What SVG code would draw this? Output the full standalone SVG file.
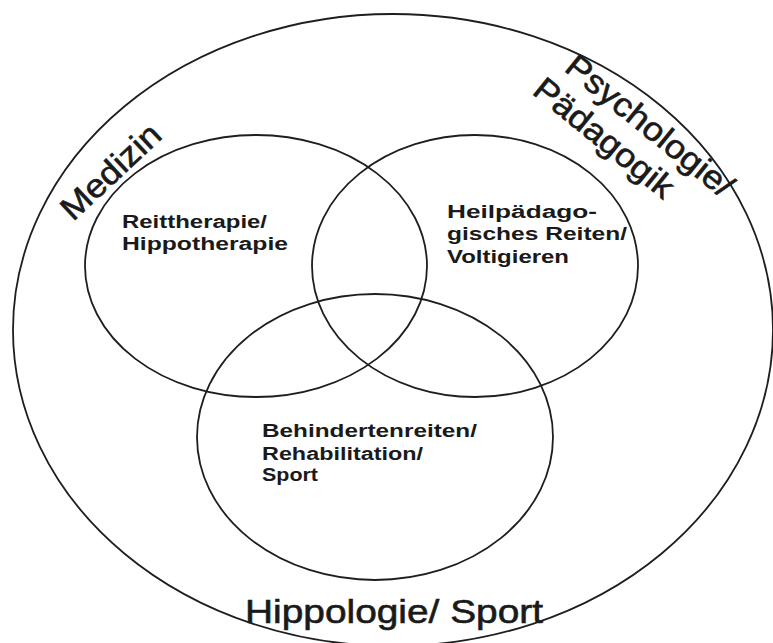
<svg xmlns="http://www.w3.org/2000/svg" width="773" height="643" viewBox="0 0 773 643">
<style>
.ring{fill:none;stroke:#1e1e1e;stroke-width:1.8}
.big{font-family:"Liberation Sans","DejaVu Sans",sans-serif;font-size:33px;fill:#1a1a1a;stroke:#1a1a1a;stroke-width:0.6}
.small{font-family:"Liberation Sans","DejaVu Sans",sans-serif;font-size:18px;font-weight:bold;fill:#1a1a1a}
</style>
<rect width="773" height="643" fill="#ffffff"/>
<g id="connectors"></g>
<g id="outer">
<ellipse class="ring" cx="393" cy="330" rx="380" ry="316"/>
<text class="big" transform="translate(73,222) rotate(-43)" font-size="35" textLength="124" lengthAdjust="spacingAndGlyphs">Medizin</text>
<g transform="translate(563,70) rotate(39)">
<text class="big" x="0" y="0" textLength="205" lengthAdjust="spacingAndGlyphs">Psychologie/</text>
</g>
<g transform="translate(531,93) rotate(39)">
<text class="big" x="0" y="0" textLength="170" lengthAdjust="spacingAndGlyphs">Pädagogik</text>
</g>
<text class="big" x="245" y="623" font-size="35" textLength="298" lengthAdjust="spacingAndGlyphs">Hippologie/ Sport</text>
</g>
<g id="reittherapie">
<ellipse class="ring" cx="256" cy="266" rx="171" ry="131"/>
<text class="small" x="122" y="228" textLength="145" lengthAdjust="spacingAndGlyphs">Reittherapie/</text>
<text class="small" x="122" y="250" textLength="166" lengthAdjust="spacingAndGlyphs">Hippotherapie</text>
</g>
<g id="heilpaedagogik">
<ellipse class="ring" cx="475" cy="266" rx="163" ry="131"/>
<text class="small" x="447" y="218" textLength="150" lengthAdjust="spacingAndGlyphs">Heilpädago-</text>
<text class="small" x="447" y="240" textLength="180" lengthAdjust="spacingAndGlyphs">gisches Reiten/</text>
<text class="small" x="447" y="263" textLength="122" lengthAdjust="spacingAndGlyphs">Voltigieren</text>
</g>
<g id="behindertenreiten">
<ellipse class="ring" cx="375" cy="437" rx="178" ry="143"/>
<text class="small" x="262" y="437" textLength="215" lengthAdjust="spacingAndGlyphs">Behindertenreiten/</text>
<text class="small" x="262" y="460" textLength="161" lengthAdjust="spacingAndGlyphs">Rehabilitation/</text>
<text class="small" x="262" y="481" textLength="56" lengthAdjust="spacingAndGlyphs">Sport</text>
</g>
</svg>
